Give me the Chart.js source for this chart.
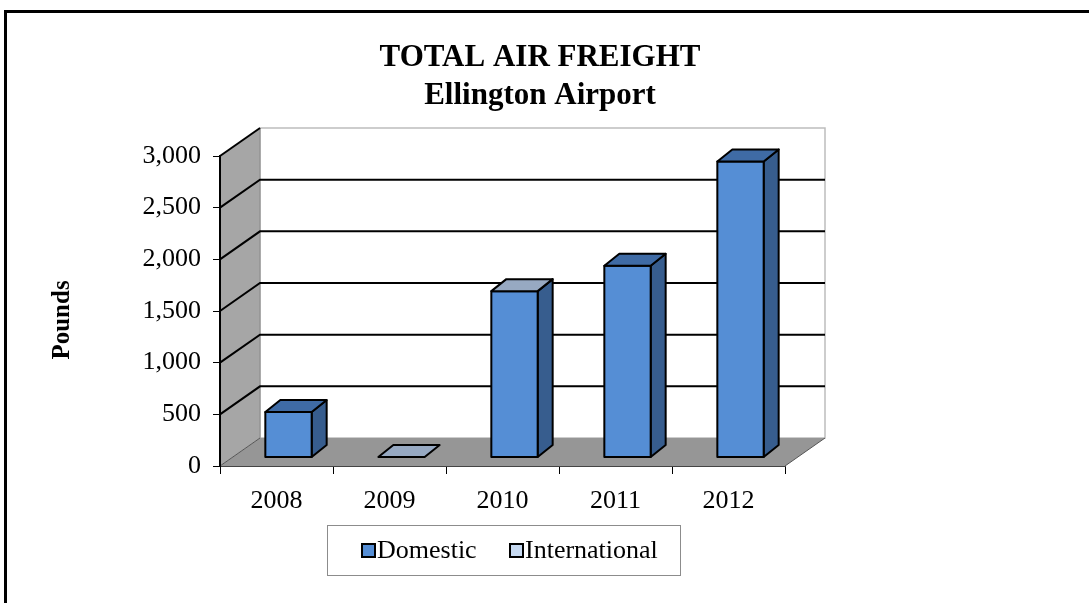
<!DOCTYPE html>
<html>
<head>
<meta charset="utf-8">
<title>Total Air Freight - Ellington Airport</title>
<script src="https://cdn.jsdelivr.net/npm/chart.js"></script>
<style>
    body { margin: 0; padding: 0; background: #fff; }
    #wrap { position: relative; width: 1089px; height: 603px; }
</style>
</head>
<body>
<div id="wrap"><canvas id="freight"></canvas></div>
<script>
    // data
    var years = ['2008', '2009', '2010', '2011', '2012'];
    var domestic = [435, 0, 1605, 1850, 2860];
    var international = [0, 0, 0, 0, 0];
    var titleLines = ['TOTAL AIR FREIGHT', 'Ellington Airport'];
    var axisTitle = 'Pounds';

    // styling
    var FONT = '"Liberation Serif", "Times New Roman", serif';
    var frontColor = '#558ed5';
    var sideColor = '#375d8e';
    var topColors = ['#3f6ba5', '#97a9c2', '#97a9c2', '#3f6ba5', '#3f6ba5'];
    var intlColor = '#c6d9f1';
    var WALL_DX = 40, WALL_DY = -28;   // depth of the box
    var BAR_DX = 12, BAR_DY = -9;      // where the bar front sits
    var BAR_DEPTH_X = 15, BAR_DEPTH_Y = -12;
    var BAR_FRAC = 0.41;

    function poly(ctx, pts, fill, stroke, lw) {
        ctx.beginPath();
        ctx.moveTo(pts[0][0], pts[0][1]);
        for (var i = 1; i < pts.length; i++) ctx.lineTo(pts[i][0], pts[i][1]);
        ctx.closePath();
        if (fill) { ctx.fillStyle = fill; ctx.fill(); }
        if (stroke) { ctx.strokeStyle = stroke; ctx.lineWidth = lw || 1; ctx.stroke(); }
    }

    var box3d = {
        id: 'box3d',
        beforeDraw: function(chart) {
            var ctx = chart.ctx;
            var a = chart.chartArea;
            var y = chart.scales.y;
            var L = a.left, R = a.right, T = a.top, B = a.bottom;
            ctx.save();
            // back wall
            poly(ctx, [[L + WALL_DX, T + WALL_DY], [R + WALL_DX, T + WALL_DY], [R + WALL_DX, B + WALL_DY], [L + WALL_DX, B + WALL_DY]], '#ffffff', '#bdbdbd', 1.5);
            // left wall
            poly(ctx, [[L, T], [L + WALL_DX, T + WALL_DY], [L + WALL_DX, B + WALL_DY], [L, B]], '#a6a6a6', null);
            ctx.strokeStyle = '#8a8a8a'; ctx.lineWidth = 1;
            ctx.beginPath(); ctx.moveTo(L + WALL_DX, T + WALL_DY); ctx.lineTo(L + WALL_DX, B + WALL_DY); ctx.stroke();
            // floor
            poly(ctx, [[L, B], [L + WALL_DX, B + WALL_DY], [R + WALL_DX, B + WALL_DY], [R, B]], '#969696', null);
            ctx.strokeStyle = '#555'; ctx.lineWidth = 1;
            ctx.beginPath(); ctx.moveTo(L, B); ctx.lineTo(L + WALL_DX, B + WALL_DY); ctx.stroke();
            ctx.beginPath(); ctx.moveTo(R, B); ctx.lineTo(R + WALL_DX, B + WALL_DY); ctx.stroke();
            // grid lines on left and back wall
            y.ticks.forEach(function(t) {
                var py = y.getPixelForValue(t.value);
                if (t.value <= 0) return;
                ctx.strokeStyle = '#000';
                ctx.lineWidth = 2;
                ctx.beginPath();
                ctx.moveTo(L, py);
                ctx.lineTo(L + WALL_DX, py + WALL_DY);
                if (t.value < y.max) ctx.lineTo(R + WALL_DX, py + WALL_DY);
                ctx.stroke();
            });
            ctx.restore();
        },
        afterDatasetsDraw: function(chart) {
            var ctx = chart.ctx;
            var x = chart.scales.x, y = chart.scales.y;
            var catW = x.width / years.length;
            var w = catW * BAR_FRAC;
            ctx.save();
            ctx.lineJoin = 'round';
            domestic.forEach(function(v, i) {
                var xc = x.getPixelForValue(i) + BAR_DX;
                var base = y.getPixelForValue(0) + BAR_DY;
                var top = y.getPixelForValue(v) + BAR_DY;
                var l = xc - w / 2, r = xc + w / 2;
                var dx = BAR_DEPTH_X, dy = BAR_DEPTH_Y;
                if (v > 0) {
                    poly(ctx, [[r, top], [r + dx, top + dy], [r + dx, base + dy], [r, base]], sideColor, '#000', 2);
                    poly(ctx, [[l, base], [r, base], [r, top], [l, top]], frontColor, '#000', 2);
                }
                poly(ctx, [[l, top], [r, top], [r + dx, top + dy], [l + dx, top + dy]], topColors[i], '#000', 2);
            });
            ctx.restore();
        },
        afterDraw: function(chart) {
            var ctx = chart.ctx;
            ctx.save();
            // outer frame
            ctx.strokeStyle = '#000';
            ctx.lineWidth = 3;
            ctx.strokeRect(5.5, 11.5, 1200, 700);
            // title
            ctx.fillStyle = '#000';
            ctx.textAlign = 'center';
            ctx.textBaseline = 'middle';
            ctx.font = 'bold 31px ' + FONT;
            ctx.fillText(titleLines[0], 540, 58);
            ctx.fillText(titleLines[1], 540, 96);
            // axis title
            ctx.save();
            ctx.translate(63, 320);
            ctx.rotate(-Math.PI / 2);
            ctx.font = 'bold 25px ' + FONT;
            ctx.fillText(axisTitle, 0, 0);
            ctx.restore();
            // legend
            ctx.strokeStyle = '#8c8c8c';
            ctx.lineWidth = 1;
            ctx.strokeRect(327.5, 525.5, 353, 50);
            ctx.font = '26px ' + FONT;
            ctx.textAlign = 'left';
            var items = [[362, chart.data.datasets[0]], [510, chart.data.datasets[1]]];
            items.forEach(function(it) {
                ctx.fillStyle = it[1].legendColor;
                ctx.fillRect(it[0], 544, 13, 13);
                ctx.strokeStyle = '#000';
                ctx.lineWidth = 2;
                ctx.strokeRect(it[0], 544, 13, 13);
                ctx.fillStyle = '#000';
                ctx.fillText(it[1].label, it[0] + 15, 551);
            });
            ctx.restore();
        }
    };

    new Chart(document.getElementById('freight'), {
        type: 'bar',
        data: {
            labels: years,
            datasets: [
                { label: 'Domestic', data: domestic, backgroundColor: 'rgba(0,0,0,0)', borderWidth: 0, legendColor: frontColor },
                { label: 'International', data: international, backgroundColor: 'rgba(0,0,0,0)', borderWidth: 0, legendColor: intlColor }
            ]
        },
        options: {
            responsive: true,
            maintainAspectRatio: false,
            animation: false,
            events: [],
            layout: { padding: { top: 156, left: 0, right: 304, bottom: 67 } },
            plugins: {
                legend: { display: false },
                title: { display: false },
                tooltip: { enabled: false }
            },
            scales: {
                x: {
                    offset: true,
                    grid: { offset: true, drawOnChartArea: false, drawTicks: true, tickLength: 8, color: '#000', lineWidth: 1 },
                    border: { display: true, color: '#444', width: 1 },
                    ticks: { color: '#000', padding: 12, font: { family: FONT, size: 26 } },
                    afterFit: function(s) { s.height = 70; }
                },
                y: {
                    min: 0,
                    max: 3000,
                    ticks: {
                        stepSize: 500,
                        color: '#000',
                        padding: 12,
                        font: { family: FONT, size: 26 },
                        callback: function(v) { return v.toLocaleString('en-US'); }
                    },
                    grid: { drawOnChartArea: false, drawTicks: true, tickLength: 7, color: '#000', lineWidth: 1 },
                    border: { display: true, color: '#000', width: 2 },
                    afterFit: function(s) { s.width = 220; }
                }
            }
        },
        plugins: [box3d]
    });
</script>
</body>
</html>
